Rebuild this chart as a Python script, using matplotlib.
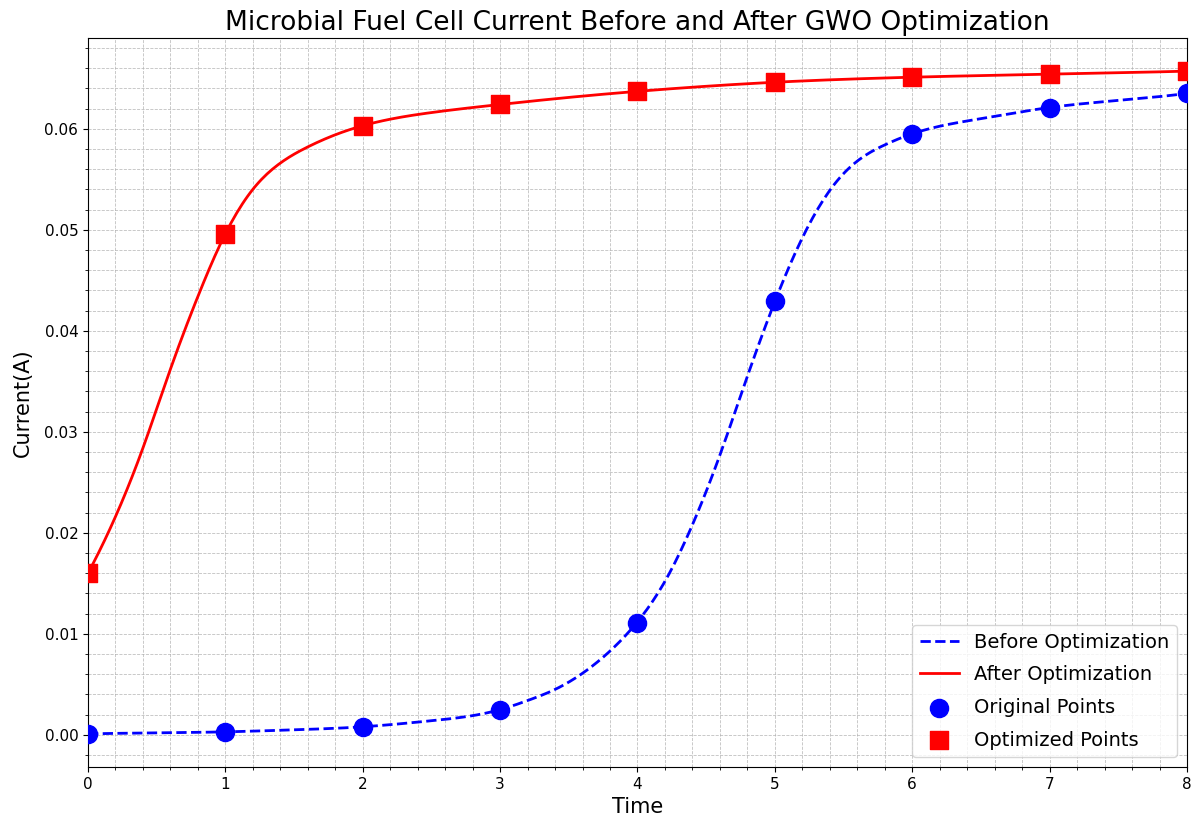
import numpy as np
import matplotlib
matplotlib.use("Agg")
import matplotlib.pyplot as plt
from matplotlib.ticker import AutoMinorLocator

# Sampled currents (A) at each time step (the marker points)
time = [0, 1, 2, 3, 4, 5, 6, 7, 8]
current_before = [0.0001, 0.0003, 0.0008, 0.0025, 0.0111, 0.0429, 0.0595, 0.0621, 0.0635]
current_after = [0.0160, 0.0496, 0.0603, 0.0624, 0.0637, 0.0646, 0.0651, 0.0654, 0.0657]

# Curves at a finer time step
curve_time_before = [0, 0.5, 1, 1.5, 2, 2.5, 3, 3.2, 3.4, 3.6, 3.8, 4, 4.2, 4.4, 4.6,
                     4.8, 5, 5.2, 5.4, 5.6, 5.8, 6, 6.5, 7, 7.5, 8]
curve_before = [0.0001, 0.0002, 0.0003, 0.0005, 0.0008, 0.0014, 0.0025, 0.0034,
                0.0045, 0.0061, 0.0083, 0.0112, 0.0152, 0.0208, 0.0277, 0.0355, 0.0429,
                0.0492, 0.0539, 0.0568, 0.0584, 0.0595, 0.0610, 0.0621, 0.0628, 0.0635]
curve_time_after = [0, 0.2, 0.4, 0.6, 0.8, 1, 1.2, 1.4, 1.6, 1.8, 2, 2.5, 3, 3.5, 4, 5, 6, 7, 8]
curve_after = [0.0160, 0.0216, 0.0284, 0.0362, 0.0434, 0.0496, 0.0540, 0.0566, 0.0582,
               0.0594, 0.0603, 0.0616, 0.0624, 0.0631, 0.0637, 0.0646, 0.0651, 0.0654, 0.0657]


def smooth_curve(x, y, n=400):
    """Not-a-knot cubic spline through the read points, for drawing the line."""
    x = np.asarray(x, float)
    y = np.asarray(y, float)
    k = len(x)
    h = np.diff(x)
    A = np.zeros((k, k))
    b = np.zeros(k)
    A[0, 0], A[0, 1], A[0, 2] = -1 / h[0], 1 / h[0] + 1 / h[1], -1 / h[1]
    A[-1, -3], A[-1, -2], A[-1, -1] = -1 / h[-2], 1 / h[-2] + 1 / h[-1], -1 / h[-1]
    for i in range(1, k - 1):
        A[i, i - 1] = h[i - 1]
        A[i, i] = 2 * (h[i - 1] + h[i])
        A[i, i + 1] = h[i]
        b[i] = 6 * ((y[i + 1] - y[i]) / h[i] - (y[i] - y[i - 1]) / h[i - 1])
    M = np.linalg.solve(A, b)
    xs = np.linspace(x[0], x[-1], n)
    idx = np.clip(np.searchsorted(x, xs) - 1, 0, k - 2)
    x0, x1 = x[idx], x[idx + 1]
    hh = x1 - x0
    ys = (M[idx] * (x1 - xs) ** 3 / (6 * hh) + M[idx + 1] * (xs - x0) ** 3 / (6 * hh)
          + (y[idx] / hh - M[idx] * hh / 6) * (x1 - xs)
          + (y[idx + 1] / hh - M[idx + 1] * hh / 6) * (xs - x0))
    return xs, ys


fig = plt.figure(figsize=(11.95, 8.23), dpi=100)
ax = fig.add_axes([88 / 1195, 1 - 767 / 823, (1187 - 88) / 1195, (767 - 38) / 823])

xb, yb = smooth_curve(curve_time_before, curve_before)
xa, ya = smooth_curve(curve_time_after, curve_after)
ax.plot(xb, yb, "b--", linewidth=2, label="Before Optimization")
ax.plot(xa, ya, "r-", linewidth=2, label="After Optimization")
ax.scatter(time, current_before, color="blue", marker="o", s=170, zorder=3,
           label="Original Points")
ax.scatter(time, current_after, color="red", marker="s", s=170, zorder=3,
           label="Optimized Points")

ax.set_xlim(0, 8)
ax.set_title("Microbial Fuel Cell Current Before and After GWO Optimization", fontsize=19)
ax.set_xlabel("Time", fontsize=15)
ax.set_ylabel("Current(A)", fontsize=15, labelpad=8)
ax.tick_params(labelsize=11)
ax.xaxis.set_minor_locator(AutoMinorLocator(5))
ax.yaxis.set_minor_locator(AutoMinorLocator(5))
ax.grid(which="both", linestyle="--", linewidth=0.6, color="#b0b0b0", alpha=0.8)
ax.legend(loc="lower right", fontsize=14, labelspacing=0.7)

fig.savefig("out.png", dpi=100)
